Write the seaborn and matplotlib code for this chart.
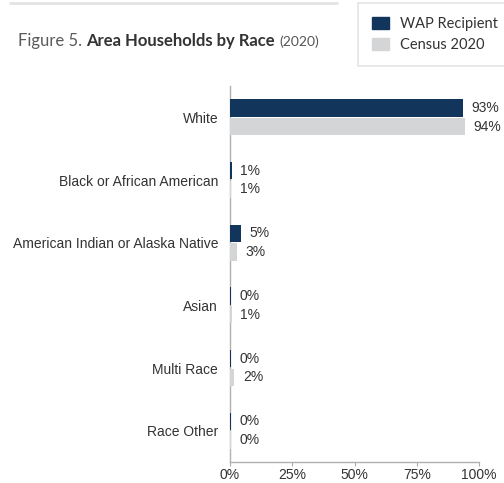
import matplotlib
matplotlib.use("Agg")
import matplotlib.pyplot as plt
import seaborn as sns
import pandas as pd
from matplotlib.patches import Patch
from matplotlib.lines import Line2D

categories = ["White", "Black or African American", "American Indian or Alaska Native",
              "Asian", "Multi Race", "Race Other"]
series_names = ["WAP Recipient", "Census 2020"]
wap_values = [93.5, 0.8, 4.4, 0.6, 0.6, 0.5]
census_values = [94.2, 0.5, 2.7, 0.8, 1.8, 0.3]
wap_labels = ["93%", "1%", "5%", "0%", "0%", "0%"]
census_labels = ["94%", "1%", "3%", "1%", "2%", "0%"]
x_ticks = [0, 25, 50, 75, 100]
x_tick_labels = ["0%", "25%", "50%", "75%", "100%"]

navy = "#12355b"
light = "#d3d5d6"
text_dark = "#333333"

df = pd.DataFrame({
    "category": categories * 2,
    "series": [series_names[0]] * len(categories) + [series_names[1]] * len(categories),
    "value": wap_values + census_values,
})

sns.set_theme(style="white")
plt.rcParams["font.family"] = ["Liberation Sans", "DejaVu Sans"]

fig = plt.figure(figsize=(5.04, 4.83), dpi=100)
ax = fig.add_axes([230 / 504, (483 - 462) / 483, (479 - 230) / 504, (462 - 86) / 483])

sns.barplot(data=df, y="category", x="value", hue="series", order=categories,
            hue_order=series_names, palette=[navy, light], width=0.6, gap=0.07,
            orient="h", ax=ax, legend=False, saturation=1, zorder=3,
            edgecolor="none", linewidth=0)

ax.set_xlim(0, 100)
ax.set_ylim(len(categories) - 0.5, -0.5)
ax.set_xticks(x_ticks)
ax.set_xticklabels(x_tick_labels, fontsize=10, color=text_dark)
ax.tick_params(axis="x", length=3, width=0.8, color="#aaaaaa", pad=1.5, direction="out")
ax.tick_params(axis="y", length=0, pad=8.5, labelsize=10, labelcolor=text_dark)
ax.set_xlabel("")
ax.set_ylabel("")
for s in ["top", "right"]:
    ax.spines[s].set_visible(False)
for s in ["left", "bottom"]:
    ax.spines[s].set_color("#b0b0b0")
    ax.spines[s].set_linewidth(1.0)
    ax.spines[s].set_zorder(1)
ax.xaxis.set_ticks_position("bottom")

# value labels
for cont, labs in zip(ax.containers, [wap_labels, census_labels]):
    ax.bar_label(cont, labels=labs, padding=6, fontsize=10, color=text_dark)

# title
y_title = 1 - 46 / 483
t1 = fig.text(18 / 504, y_title, "Figure 5. ", fontsize=12, color="#5a5a5a",
              family="Lato", weight="normal", va="baseline")
fig.canvas.draw()
r = fig.canvas.get_renderer()
bb = t1.get_window_extent(r)
t2 = fig.text(bb.x1 / 504, y_title, "Area Households by Race", fontsize=12,
              color="#333333", family="Lato", weight="bold", va="baseline")
bb2 = t2.get_window_extent(r)
fig.text(bb2.x1 / 504 + 4 / 504, y_title, "(2020)", fontsize=10, color="#555555",
         family="Lato", va="baseline")

# top rule
fig.add_artist(Line2D([10 / 504, 337 / 504], [1 - 3 / 483, 1 - 3 / 483],
                      color="#e3e3e3", linewidth=2, transform=fig.transFigure))

# legend box
handles = [Patch(facecolor=navy, edgecolor=navy), Patch(facecolor=light, edgecolor=light)]
leg = fig.legend(handles, series_names, loc="upper left",
                 bbox_to_anchor=(358 / 504, 1 - 3 / 483), frameon=True,
                 handlelength=1.15, handleheight=0.9, handletextpad=0.75,
                 borderpad=0.95, labelspacing=0.5, fancybox=False, borderaxespad=0,
                 prop={"family": "Lato", "size": 10.5})
leg.get_frame().set_edgecolor("#dddddd")
leg.get_frame().set_linewidth(1.2)
for t in leg.get_texts():
    t.set_color(text_dark)

fig.savefig("out.png", dpi=100)
